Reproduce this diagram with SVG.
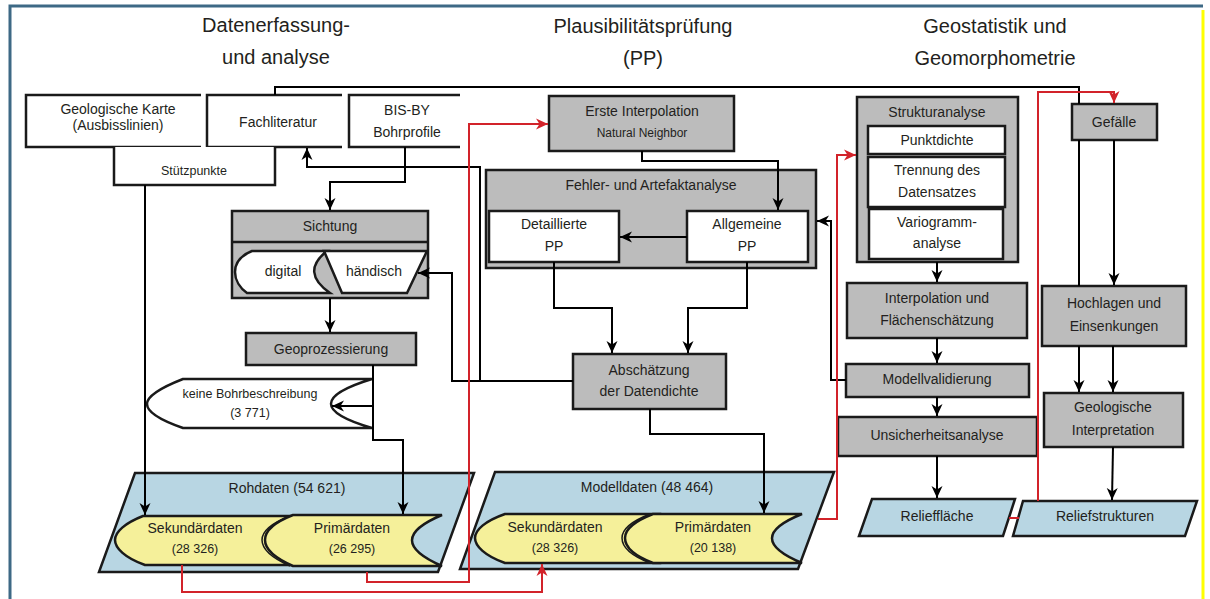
<svg xmlns="http://www.w3.org/2000/svg" width="1210" height="599" viewBox="0 0 1210 599">
<defs>
<style>
.ttl{font-family:"Liberation Sans",Arial,sans-serif;font-size:20px;fill:#231f20;text-anchor:middle}
.t{font-family:"Liberation Sans",Arial,sans-serif;font-size:14px;fill:#231f20;text-anchor:middle}
.s{font-family:"Liberation Sans",Arial,sans-serif;font-size:12.5px;fill:#231f20;text-anchor:middle}
.xs{font-family:"Liberation Sans",Arial,sans-serif;font-size:12px;fill:#231f20;text-anchor:middle}
.g{fill:#bcbcbc;stroke:#1a1a1a;stroke-width:2.5}
.w{fill:#fff;stroke:#1a1a1a;stroke-width:2.5}
.wo{fill:#fff;stroke:#1a1a1a;stroke-width:2.5;stroke-linejoin:miter}
.b{fill:#b8d6e3;stroke:#1a1a1a;stroke-width:2.5;stroke-linejoin:miter}
.y{fill:#f5f09a;stroke:#1a1a1a;stroke-width:2.5}
.c{fill:none;stroke:#000;stroke-width:2;marker-end:url(#ah)}
.cn{fill:none;stroke:#000;stroke-width:2}
.r{fill:none;stroke:#d2232a;stroke-width:2;marker-end:url(#ahr)}
.rn{fill:none;stroke:#d2232a;stroke-width:2}
</style>
<marker id="ah" viewBox="0 0 12 12" refX="12" refY="6" markerWidth="12" markerHeight="12" markerUnits="userSpaceOnUse" orient="auto"><path d="M0,0.5 L12,6 L0,11.5 L3.5,6 Z" fill="#000"/></marker>
<marker id="ahr" viewBox="0 0 12 12" refX="12" refY="6" markerWidth="12" markerHeight="12" markerUnits="userSpaceOnUse" orient="auto"><path d="M0,0.5 L12,6 L0,11.5 L3.5,6 Z" fill="#d2232a"/></marker>
</defs>
<rect x="0" y="0" width="1210" height="599" fill="#fff"/>
<g id="frame">
<path d="M10,599 L10,6 L1203,6" fill="none" stroke="#3d6985" stroke-width="3"/>
<path d="M1203,10 L1203,599" fill="none" stroke="#ffff00" stroke-width="3"/>
</g>
<g id="titles">
<text class="ttl" x="276" y="32">Datenerfassung-</text>
<text class="ttl" x="276" y="64">und analyse</text>
<text class="ttl" x="643" y="33">Plausibilitätsprüfung</text>
<text class="ttl" x="643" y="65">(PP)</text>
<text class="ttl" x="995" y="33">Geostatistik und</text>
<text class="ttl" x="995" y="65">Geomorphometrie</text>
</g>
<g id="nodes">
<g id="geolkarte"><path class="wo" d="M201,95 L26,95 L26,147 L201,147"/><text class="t" x="118" y="114">Geologische Karte</text><text class="t" x="118" y="130">(Ausbisslinien)</text></g>
<g id="fachliteratur"><path class="wo" d="M342,95 L207,95 L207,147 L342,147"/><text class="t" x="278" y="127">Fachliteratur</text></g>
<g id="bisby"><path class="wo" d="M460,95 L349,95 L349,147 L460,147"/><text class="t" x="407" y="115">BIS-BY</text><text class="t" x="407" y="137">Bohrprofile</text></g>
<g id="stuetzpunkte"><path class="wo" d="M114,147 L114,185 L275,185 L275,147"/><text class="s" x="194" y="175">Stützpunkte</text></g>
<g id="sichtung">
<rect class="g" x="232" y="211" width="196" height="87"/>
<line x1="232" y1="242" x2="428" y2="242" stroke="#1a1a1a" stroke-width="2.5"/>
<text class="t" x="330" y="231">Sichtung</text>
<path class="w" d="M252,251 L327,251 Q300,272 330,293 L247,293 C240,288 235,280 235,272 C235,264 240,256 252,251 Z"/>
<text class="t" x="283" y="276">digital</text>
<path class="w" d="M324,251 L427,251 L407,293 L342,293 Z"/>
<text class="t" x="374" y="276">händisch</text>
</g>
<g id="geoprozessierung"><rect class="g" x="246" y="333" width="170" height="32"/><text class="t" x="331" y="354">Geoprozessierung</text></g>
<g id="keinebohr"><path class="w" d="M183,379 L372,379 Q290,404 372,428 L183,428 C160,420 147,412 147,404 C147,396 160,388 183,379 Z"/><text class="s" x="250" y="398">keine Bohrbeschreibung</text><text class="s" x="250" y="417">(3 771)</text></g>
<g id="rohdaten">
<path class="b" d="M135,473 L474,473 L438,572 L99,572 Z"/>
<text class="t" x="287" y="493">Rohdaten (54 621)</text>
<path class="y" d="M143,516 L300,516 L300,565 L145,565 C125,558 115,548 115,540 C115,532 125,523 143,516 Z"/>
<text class="t" x="195" y="533">Sekundärdaten</text><text class="s" x="195" y="553">(28 326)</text>
<path fill="none" stroke="#1a1a1a" stroke-width="1.5" d="M290,516 C272,523 262,531 262,540 C262,549 272,558 290,566"/>
<path class="y" d="M293,515 L442,515 Q382,540 442,566 L293,566 C275,558 265,549 265,540 C265,531 275,522 293,515 Z"/>
<text class="t" x="352" y="533">Primärdaten</text><text class="s" x="352" y="553">(26 295)</text>
</g>
<g id="ersteinterpolation"><rect class="g" x="549" y="96" width="185" height="55"/><text class="t" x="642" y="116">Erste Interpolation</text><text class="xs" x="642" y="137">Natural Neighbor</text></g>
<g id="fehleranalyse">
<rect class="g" x="486" y="170" width="330" height="98"/>
<text class="t" x="651" y="190">Fehler- und Artefaktanalyse</text>
<rect class="w" x="489" y="211" width="130" height="51"/>
<text class="t" x="554" y="229">Detaillierte</text><text class="t" x="554" y="251">PP</text>
<rect class="w" x="687" y="211" width="121" height="51"/>
<text class="t" x="747" y="229">Allgemeine</text><text class="t" x="747" y="251">PP</text>
</g>
<g id="abschaetzung"><rect class="g" x="573" y="354" width="153" height="55"/><text class="t" x="649" y="375">Abschätzung</text><text class="t" x="649" y="396">der Datendichte</text></g>
<g id="modelldaten">
<path class="b" d="M495,472 L834,472 L798,569 L460,569 Z"/>
<text class="t" x="647" y="492">Modelldaten (48 464)</text>
<path class="y" d="M505,514 L660,514 L660,563 L505,563 C485,556 475,546 475,538 C475,530 485,521 505,514 Z"/>
<text class="t" x="555" y="532">Sekundärdaten</text><text class="s" x="555" y="552">(28 326)</text>
<path fill="none" stroke="#1a1a1a" stroke-width="1.5" d="M650,514 C632,521 622,529 622,538 C622,547 632,556 650,563"/>
<path class="y" d="M653,514 L802,514 Q742,538 802,563 L653,563 C635,556 625,547 625,538 C625,529 635,521 653,514 Z"/>
<text class="t" x="713" y="532">Primärdaten</text><text class="s" x="713" y="552">(20 138)</text>
</g>
<g id="strukturanalyse">
<rect class="g" x="857" y="97" width="161" height="165"/>
<text class="t" x="937" y="117">Strukturanalyse</text>
<rect class="w" x="868" y="126" width="137" height="28"/><text class="t" x="937" y="145">Punktdichte</text>
<rect class="w" x="868" y="157" width="137" height="50"/><text class="t" x="937" y="175">Trennung des</text><text class="t" x="937" y="197">Datensatzes</text>
<rect class="w" x="869" y="209" width="134" height="50"/><text class="t" x="937" y="227">Variogramm-</text><text class="t" x="937" y="248">analyse</text>
</g>
<g id="interpolation"><rect class="g" x="847" y="283" width="180" height="55"/><text class="t" x="937" y="303">Interpolation und</text><text class="t" x="937" y="325">Flächenschätzung</text></g>
<g id="modellvalidierung"><rect class="g" x="846" y="364" width="183" height="33"/><text class="t" x="937" y="384">Modellvalidierung</text></g>
<g id="unsicherheit"><rect class="g" x="838" y="417" width="199" height="39"/><text class="t" x="937" y="440">Unsicherheitsanalyse</text></g>
<g id="reliefflaeche"><path class="b" d="M872,499 L1015,499 L1003,536 L859,536 Z"/><text class="t" x="937" y="521">Relieffläche</text></g>
<g id="gefaelle"><rect class="g" x="1072" y="104" width="85" height="36"/><text class="t" x="1114" y="127">Gefälle</text></g>
<g id="hochlagen"><rect class="g" x="1042" y="286" width="144" height="60"/><text class="t" x="1114" y="308">Hochlagen und</text><text class="t" x="1114" y="331">Einsenkungen</text></g>
<g id="geolinterpretation"><rect class="g" x="1044" y="393" width="139" height="54"/><text class="t" x="1113" y="412">Geologische</text><text class="t" x="1113" y="435">Interpretation</text></g>
<g id="reliefstrukturen"><path class="b" d="M1023,501 L1197,501 L1185,536 L1013,536 Z"/><text class="t" x="1105" y="521">Reliefstrukturen</text></g>
</g>
<g id="connectors">
<path class="cn" d="M275,95 L275,87 L1079,87 L1079,104"/>
<path class="cn" d="M1079,140 L1079,286"/>
<path class="c" d="M145,185 L145,515"/>
<path class="c" d="M405,147 L405,182 L330,182 L330,210"/>
<path class="c" d="M330,298 L330,332"/>
<path class="c" d="M373,365 L373,440 L403,440 L403,514"/>
<path class="c" d="M373,406 L332,406"/>
<path class="c" d="M573,381 L480,381 L480,167 L307,167 L307,148"/>
<path class="c" d="M480,381 L452,381 L452,273 L418,273"/>
<path class="c" d="M642,151 L642,161 L778,161 L778,210"/>
<path class="c" d="M687,237 L620,237"/>
<path class="c" d="M554,262 L554,308 L612,308 L612,353"/>
<path class="c" d="M747,262 L747,308 L688,308 L688,353"/>
<path class="c" d="M650,409 L650,434 L764,434 L764,513"/>
<path class="c" d="M846,380 L831,380 L831,221 L817,221"/>
<path class="c" d="M937,262 L937,282"/>
<path class="c" d="M937,338 L937,363"/>
<path class="c" d="M937,397 L937,416"/>
<path class="c" d="M937,456 L937,498"/>
<path class="c" d="M1114,140 L1114,285"/>
<path class="c" d="M1079,346 L1079,392"/>
<path class="c" d="M1113,346 L1113,392"/>
<path class="c" d="M1113,447 L1112,500"/>
<path class="r" d="M182,565 L182,592 L542,592 L542,564"/>
<path class="r" d="M367,572 L367,582 L469,582 L469,124 L548,124"/>
<path class="r" d="M818,519 L837,519 L837,155 L856,155"/>
<path class="rn" d="M1009,518 L1019,518"/>
<path class="r" d="M1038,501 L1038,92 L1114,92 L1114,103"/>
</g>
</svg>
